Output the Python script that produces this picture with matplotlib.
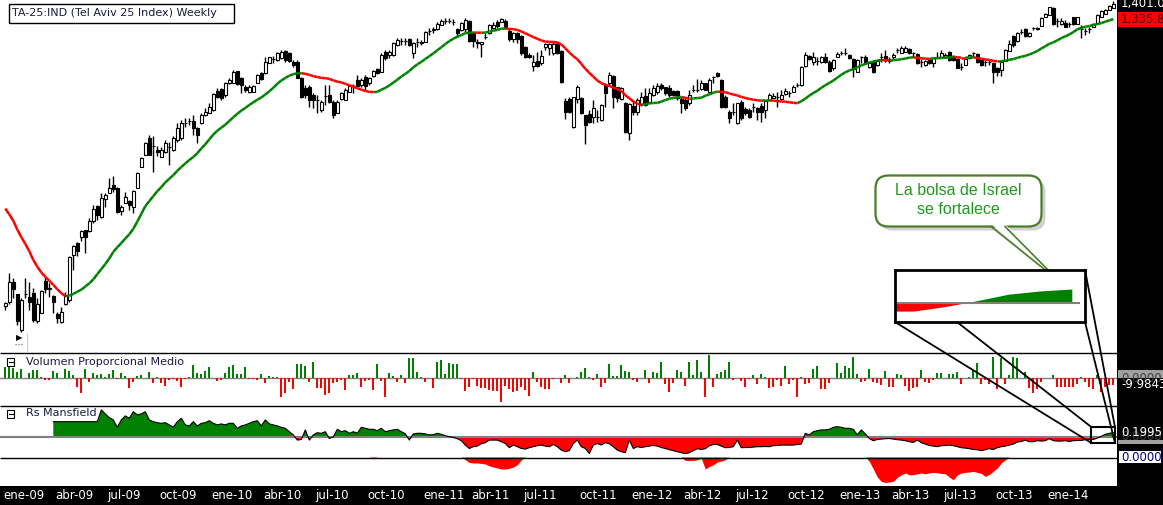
import numpy as np
import pandas as pd
import matplotlib
matplotlib.use("Agg")
import matplotlib.pyplot as plt
from matplotlib.collections import LineCollection
from matplotlib.patches import Rectangle, FancyBboxPatch, Polygon

# weekly candles, TA-25
opens = [193, 210, 288, 241, 97, 240, 228, 244, 134, 166,
         294, 263, 234, 161, 130, 201, 217, 396, 444, 470,
         497, 494, 533, 593, 550, 620, 646, 677, 664, 573,
         606, 614, 588, 664, 748, 797, 864, 832, 817, 790,
         810, 829, 817, 857, 864, 925, 933, 934, 904, 924,
         957, 966, 977, 1054, 1060, 1037, 1084, 1086, 1133, 1104,
         1068, 1050, 1050, 1086, 1124, 1124, 1166, 1181, 1177, 1184,
         1213, 1204, 1170, 1170, 1104, 1064, 1068, 1037, 1016, 977,
         1035, 1037, 1010, 964, 1020, 1017, 1050, 1072, 1097, 1077,
         1108, 1084, 1113, 1140, 1130, 1210, 1197, 1197, 1237, 1253,
         1254, 1260, 1206, 1250, 1250, 1250, 1294, 1299, 1300, 1317,
         1334, 1335, 1330, 1300, 1297, 1300, 1334, 1284, 1250, 1240,
         1268, 1284, 1304, 1330, 1330, 1334, 1294, 1260, 1284, 1273,
         1228, 1197, 1153, 1174, 1164, 1230, 1224, 1204, 1244, 1214,
         1014, 1020, 910, 1020, 1024, 957, 961, 950, 950, 937,
         1077, 1084, 1113, 1068, 1020, 1004, 884, 993, 970, 1001,
         1033, 1010, 1037, 1050, 1077, 1068, 1064, 1054, 1053, 1020,
         1017, 1004, 1057, 1057, 1060, 1084, 1050, 1110, 1126, 1097,
         1030, 970, 970, 924, 1010, 980, 977, 988, 984, 993,
         977, 1017, 1024, 1030, 1020, 1041, 1044, 1050, 1077, 1077,
         1153, 1193, 1170, 1174, 1170, 1188, 1170, 1144, 1190, 1206,
         1206, 1197, 1180, 1130, 1190, 1188, 1150, 1170, 1157, 1188,
         1193, 1174, 1188, 1217, 1206, 1210, 1220, 1204, 1201, 1170,
         1157, 1177, 1166, 1190, 1190, 1188, 1210, 1190, 1180, 1150,
         1157, 1184, 1204, 1201, 1177, 1170, 1170, 1166, 1144, 1137,
         1174, 1214, 1273, 1254, 1290, 1300, 1273, 1304, 1304, 1313,
         1350, 1357, 1384, 1334, 1321, 1326, 1321, 1348, 1321, 1300,
         1294, 1300, 1310, 1324, 1350, 1361, 1377, 1384]
highs = [210, 324, 304, 241, 224, 304, 290, 264, 224, 257,
         310, 284, 237, 170, 190, 250, 393, 437, 450, 497,
         497, 544, 597, 597, 646, 646, 704, 713, 668, 597,
         650, 617, 657, 730, 790, 850, 877, 873, 833, 830,
         857, 850, 873, 924, 937, 944, 944, 957, 910, 964,
         984, 1004, 1044, 1064, 1064, 1090, 1104, 1137, 1134, 1108,
         1077, 1077, 1077, 1121, 1130, 1190, 1190, 1193, 1210, 1217,
         1217, 1209, 1177, 1177, 1110, 1077, 1077, 1044, 1037, 1017,
         1077, 1077, 1017, 1017, 1050, 1064, 1077, 1080, 1117, 1104,
         1117, 1110, 1137, 1144, 1204, 1217, 1217, 1250, 1264, 1266,
         1264, 1265, 1250, 1264, 1257, 1293, 1304, 1310, 1330, 1340,
         1344, 1344, 1340, 1304, 1329, 1344, 1337, 1290, 1260, 1250,
         1284, 1321, 1329, 1337, 1344, 1340, 1300, 1289, 1289, 1277,
         1233, 1204, 1197, 1210, 1217, 1244, 1244, 1249, 1250, 1217,
         1024, 1029, 1030, 1077, 1030, 957, 977, 1017, 977, 1001,
         1084, 1130, 1117, 1070, 1070, 1010, 1006, 1017, 1024, 1050,
         1064, 1064, 1077, 1084, 1084, 1070, 1077, 1057, 1057, 1030,
         1030, 1057, 1077, 1100, 1097, 1084, 1104, 1113, 1130, 1100,
         1037, 977, 1004, 1006, 1017, 990, 984, 1004, 990, 1004,
         1017, 1044, 1044, 1050, 1057, 1065, 1054, 1077, 1084, 1153,
         1210, 1197, 1210, 1190, 1193, 1204, 1177, 1181, 1209, 1214,
         1224, 1201, 1184, 1181, 1193, 1197, 1170, 1177, 1177, 1204,
         1217, 1190, 1204, 1224, 1233, 1233, 1225, 1210, 1204, 1180,
         1177, 1181, 1190, 1210, 1217, 1204, 1213, 1197, 1184, 1164,
         1184, 1201, 1210, 1205, 1180, 1177, 1177, 1170, 1150, 1177,
         1221, 1257, 1277, 1289, 1300, 1304, 1289, 1310, 1310, 1348,
         1364, 1390, 1388, 1344, 1344, 1337, 1330, 1350, 1350, 1317,
         1304, 1310, 1324, 1361, 1377, 1380, 1396, 1412]
lows = [177, 201, 224, 117, 90, 224, 177, 130, 124, 164,
        246, 230, 164, 124, 124, 197, 210, 337, 394, 454,
        404, 490, 524, 537, 544, 590, 644, 650, 564, 557,
        604, 577, 564, 664, 748, 797, 797, 729, 793, 789,
        804, 757, 813, 850, 857, 910, 917, 877, 844, 921,
        953, 964, 974, 1024, 1017, 1030, 1081, 1085, 1077, 1044,
        1050, 1044, 1049, 1084, 1097, 1121, 1164, 1164, 1174, 1181,
        1170, 1169, 1150, 1104, 1024, 1024, 990, 984, 964, 970,
        997, 1004, 944, 964, 1017, 1017, 1049, 1044, 1068, 1068,
        1057, 1077, 1109, 1121, 1129, 1177, 1184, 1193, 1233, 1237,
        1237, 1233, 1184, 1230, 1237, 1249, 1277, 1284, 1297, 1316,
        1321, 1324, 1317, 1270, 1294, 1290, 1250, 1230, 1224, 1190,
        1260, 1281, 1301, 1305, 1329, 1305, 1254, 1249, 1245, 1197,
        1185, 1184, 1134, 1150, 1157, 1217, 1197, 1197, 1201, 1084,
        940, 966, 904, 1004, 961, 841, 924, 924, 930, 934,
        990, 1077, 984, 1010, 1017, 886, 857, 957, 957, 993,
        993, 1006, 1033, 1041, 1057, 1037, 1030, 1033, 1017, 964,
        977, 997, 1050, 1050, 1057, 1057, 1046, 1084, 1110, 984,
        984, 924, 957, 921, 937, 957, 944, 970, 937, 930,
        944, 1017, 1024, 990, 1017, 1037, 1030, 1049, 1070, 1075,
        1150, 1177, 1157, 1157, 1165, 1165, 1130, 1137, 1189, 1197,
        1197, 1181, 1110, 1129, 1164, 1161, 1144, 1124, 1153, 1170,
        1170, 1164, 1180, 1205, 1204, 1209, 1201, 1188, 1161, 1150,
        1153, 1161, 1150, 1184, 1188, 1185, 1173, 1173, 1144, 1137,
        1157, 1181, 1188, 1165, 1153, 1153, 1157, 1084, 1113, 1113,
        1173, 1213, 1230, 1249, 1281, 1270, 1269, 1297, 1297, 1313,
        1349, 1356, 1317, 1310, 1317, 1308, 1310, 1317, 1321, 1264,
        1277, 1286, 1309, 1321, 1348, 1360, 1377, 1384]
closes = [205, 288, 262, 134, 217, 241, 210, 137, 201, 253,
          262, 264, 210, 144, 170, 233, 390, 434, 414, 493,
          468, 533, 580, 557, 624, 637, 664, 660, 570, 588,
          628, 597, 654, 724, 784, 846, 797, 833, 809, 817,
          846, 830, 864, 906, 924, 926, 934, 904, 877, 957,
          970, 990, 1040, 1030, 1024, 1086, 1097, 1130, 1081, 1077,
          1057, 1070, 1073, 1117, 1100, 1170, 1188, 1182, 1204, 1210,
          1177, 1173, 1157, 1104, 1030, 1037, 1017, 1017, 1017, 1010,
          1034, 1010, 957, 1010, 1044, 1057, 1073, 1073, 1073, 1097,
          1073, 1104, 1134, 1126, 1197, 1184, 1210, 1244, 1257, 1254,
          1255, 1237, 1246, 1251, 1244, 1290, 1295, 1300, 1321, 1334,
          1335, 1334, 1330, 1284, 1326, 1337, 1254, 1254, 1244, 1250,
          1268, 1317, 1317, 1313, 1340, 1308, 1260, 1284, 1260, 1206,
          1190, 1188, 1170, 1153, 1193, 1240, 1240, 1240, 1204, 1090,
          970, 970, 1030, 1068, 964, 917, 930, 984, 951, 997,
          1044, 1117, 1030, 1024, 1064, 890, 1001, 970, 1017, 1030,
          997, 1044, 1064, 1073, 1064, 1044, 1037, 1037, 1024, 1004,
          984, 1037, 1058, 1057, 1086, 1057, 1097, 1110, 1113, 990,
          988, 944, 970, 1004, 944, 966, 950, 988, 970, 970,
          1014, 1037, 1034, 1030, 1037, 1054, 1044, 1070, 1077, 1150,
          1197, 1180, 1188, 1174, 1188, 1170, 1134, 1177, 1201, 1206,
          1207, 1184, 1140, 1177, 1190, 1166, 1164, 1130, 1174, 1188,
          1180, 1174, 1197, 1217, 1224, 1226, 1204, 1204, 1164, 1170,
          1174, 1164, 1184, 1190, 1204, 1197, 1177, 1177, 1144, 1150,
          1180, 1197, 1204, 1170, 1157, 1170, 1171, 1130, 1130, 1170,
          1217, 1241, 1237, 1286, 1290, 1273, 1284, 1304, 1303, 1344,
          1361, 1390, 1321, 1334, 1334, 1310, 1321, 1321, 1350, 1300,
          1294, 1300, 1321, 1357, 1374, 1377, 1393, 1401]
# closes of the 19 weeks before the first candle (feed the 20-week average)
closes_2008 = [757, 777, 837, 817, 785, 797, 837, 745, 705, 617,
               569, 545, 489, 489, 457, 369, 289, 233, 337]

volumen = [16.5, 16.5, 15, 10, 13.5, 0.8, 7.5, 12.5, 12.5, 1.5,
           -2.5, -2.5, 11.5, 7.5, 0.8, 13.5, 11.5, 5, -12.5, -21.5,
           13.5, -5, 8.5, 5, 6.5, 2.5, 6, 12.5, -1.5, 8.5,
           3.5, -14, -5, 3.5, 5, 0.8, 10, -7.5, 2.5, -7.5,
           -11, -2.5, -1.5, -3.5, -13.5, -1.5, 2.5, 20, 7.5, 6.5,
           11.5, 17.5, 0.5, -3.5, -2.5, 7.5, 16.5, 20, 6.5, 6,
           16.5, -1.5, -1.5, -2, 6.5, -7.5, 3.5, 2.5, 2.5, -28.5,
           -21.5, -5, -16.5, 21.5, 21.5, 18.5, -5, 25, -15, -15,
           -25, -21.5, -7.5, -5, -2.5, -17.5, 5, 5, 7.5, -13.5,
           -3.5, -2.5, -17.5, 21.5, -3.5, -27.5, 7.5, 3.5, -5, 5,
           -6.5, 30, 31, 10, 2.5, -5, 0.5, -15, 24, 27.5,
           6.5, 22.5, 21.5, 21.5, -1.5, -18.5, -13.5, -1.5, -11, -15,
           -15, -17.5, -18.5, -18.5, -35, -11, -16.5, -21, -18.5, -12.5,
           -17.5, -26, 9.5, -5, -13.5, -16.5, -16, -1.5, 0.8, -7.5,
           5, -7.5, 0.8, 1.5, 9, 15, 2.5, -2.5, 6.5, -12.5,
           -7.5, 21.5, 3.5, 3.5, 20, 11.5, 9, -2.5, -6, 0.8,
           12.5, -6.5, 9, 7.5, 24.5, -9, -21, -6.5, 12.5, 9,
           -11, 24.5, 5, 27.5, 9, -27.5, 35, -13.5, 6, 9,
           12.5, 24, -2.5, 0.5, -4, -12.5, -1, 5, -9, 6.5,
           2.5, -15, -12.5, -2.5, -11, 18.5, -9, -2.5, -27.5, 2.5,
           -9, -6.5, 13.5, 18.5, -16.5, -16.5, -7.5, 0.8, 23.5, 7.5,
           18.5, 16, 32.5, 6.5, -5, -3.5, 13.5, -5, -7.5, -10,
           11, -12.5, -12.5, 6, 5, -11.5, -18.5, -15, -12.5, 12.5,
           -5, -7.5, -2.5, 7.5, 8.5, 0.8, 6.5, 6, 10, -9,
           0.8, 2.5, 12.5, 23.5, -9, -2.5, -8.5, 32.5, -16.5, 31,
           -9, 5, 31.5, 30, 0.8, 9, -15, -22.5, -16.5, -5,
           0.8, 0.5, 5, -12.5, -12.5, -12.5, -12.5, -12.5, -8.5, 1.5,
           -5, -12.5, -16.5, 5, -20, -12.5, -10, -10]

rs_start = 12
rs_mansfield = [0.75, 0.75, 0.75, 0.75, 0.75, 0.75, 0.75, 0.75, 0.75, 0.75, 0.75, 0.75,
                1.34, 1.14, 0.95, 0.84, 0.47, 0.84, 1.04, 0.92, 1.25, 1.09,
                1.14, 1.25, 0.84, 0.75, 0.7, 0.67, 0.7, 0.59, 0.47, 0.75,
                0.92, 0.59, 0.54, 0.75, 0.54, 0.67, 0.7, 0.8, 0.67, 0.59,
                0.64, 0.59, 0.67, 0.67, 0.42, 0.54, 0.59, 0.67, 0.75, 0.8,
                0.54, 0.84, 0.64, 0.59, 0.54, 0.47, 0.42, 0.25, 0.09, -0.17,
                -0.14, 0.34, -0.17, 0.09, 0.2, 0.17, 0.25, -0.09, 0.0, 0.37,
                0.25, 0.3, 0.17, 0.25, 0.17, 0.47, 0.42, 0.37, 0.37, 0.3,
                0.42, 0.25, 0.3, 0.34, 0.37, 0.25, 0.15, -0.17, 0.14, 0.17,
                0.17, 0.14, 0.09, 0.1, 0.17, 0.12, 0.05, 0.0, -0.04, -0.1,
                -0.2, -0.42, -0.59, -0.5, -0.47, -0.35, -0.3, -0.17, -0.17, -0.17,
                -0.25, -0.34, -0.55, -0.42, -0.5, -0.59, -0.62, -0.55, -0.5, -0.45,
                -0.42, -0.47, -0.5, -0.39, -0.5, -0.67, -0.75, -0.7, -0.34, -0.17,
                -0.5, -0.59, -0.84, -0.42, -0.34, -0.42, -0.3, -0.35, -0.5, -0.67,
                -0.75, -0.8, -0.17, -0.59, -0.5, -0.54, -0.5, -0.47, -0.44, -0.47,
                -0.54, -0.59, -0.65, -0.7, -0.75, -0.8, -0.85, -0.8, -0.7, -0.6,
                -0.64, -0.6, -0.45, -0.39, -0.39, -0.47, -0.55, -0.54, -0.5, -0.17,
                -0.55, -0.54, -0.54, -0.52, -0.5, -0.5, -0.49, -0.5, -0.45, -0.44,
                -0.42, -0.42, -0.42, -0.42, -0.39, -0.37, 0.17, 0.09, 0.25, 0.3,
                0.34, 0.34, 0.37, 0.47, 0.5, 0.47, 0.42, 0.42, 0.37, 0.09,
                0.34, 0.14, -0.09, -0.2, -0.14, -0.12, -0.1, -0.09, -0.12, -0.15,
                -0.17, -0.2, -0.25, -0.29, -0.17, -0.3, -0.37, -0.44, -0.47, -0.5,
                -0.45, -0.44, -0.42, -0.45, -0.5, -0.55, -0.57, -0.6, -0.64, -0.65,
                -0.7, -0.65, -0.6, -0.64, -0.55, -0.5, -0.47, -0.42, -0.37, -0.27,
                -0.24, -0.17, -0.25, -0.25, -0.2, -0.22, -0.2, -0.1, -0.2, -0.22,
                -0.22, -0.2, -0.24, -0.2, -0.19, -0.19, -0.15, -0.14, -0.14, -0.07,
                0.02, 0.12, 0.17, 0.2]

# unnamed bottom indicator: only its negative stretches are drawn
lower_starts = [92, 115, 170, 216]
lower_values = [
    [-0.1],
    [-0.14, -0.27, -0.3, -0.3, -0.32, -0.35, -0.44, -0.5, -0.55, -0.6, -0.6, -0.57, -0.5, -0.39, -0.15],
    [-0.17, -0.17, -0.17, -0.14, -0.07, -0.6, -0.47, -0.39, -0.25, -0.2, -0.14],
    [-0.22, -0.6, -1.0, -1.22, -1.27, -1.25, -1.22, -1.02, -0.89, -0.8, -0.89, -0.89, -0.84, -0.8,
     -0.84, -0.79, -0.77, -0.79, -0.82, -0.84, -1.0, -1.14, -0.9, -0.8, -0.77, -0.75, -0.72, -0.77,
     -0.82, -0.97, -0.87, -0.72, -0.55, -0.3, -0.14],
]

month_names = {1: 'ene', 4: 'abr', 7: 'jul', 10: 'oct'}
title = 'TA-25:IND (Tel Aviv 25 Index) Weekly'
price_labels = ['1,401.0', '1,335.8']
vol_labels = ['0.0000', '-9.9843']
rs_labels = ['0.1995', '0.0000']
lower_label = '0.0000'
note = ['La bolsa de Israel', 'se fortalece']

n = len(closes)
x = np.arange(n)
weeks = pd.date_range('2009-01-02', periods=n, freq='W-FRI')
o = np.array(opens, float)
hi = np.array(highs, float)
lo = np.array(lows, float)
c = np.array(closes, float)
ma = np.convolve(np.concatenate([closes_2008, c]), np.ones(20) / 20, mode='valid')

W, H = 1163, 505
RIGHT = 1117
fig = plt.figure(figsize=(W / 100, H / 100), dpi=100, facecolor='black')


def panel(top, bottom):
    a = fig.add_axes([0, 1 - bottom / H, RIGHT / W, (bottom - top) / H])
    a.set_facecolor('white')
    a.set_xticks([])
    a.set_yticks([])
    for s in a.spines.values():
        s.set_visible(False)
    a.set_xlim(-1.33, n - 0.08)
    return a


ax = panel(0, 352)
axv = panel(352, 405)
axr = panel(405, 457)
axd = panel(457, 486)
ax.set_ylim(9, 1417)
axv.set_ylim(-40, 39.5)
axr.set_ylim(-1.015, 1.585)
axd.set_ylim(-1.45, 0)

# candles
up = c >= o
ax.vlines(x, lo, hi, color='black', lw=1, zorder=2)
blo = np.minimum(o, c)
bh = np.abs(c - o)
ax.bar(x[up], bh[up], bottom=blo[up], width=0.72, color='white',
       edgecolor='black', lw=0.8, zorder=3)
ax.bar(x[~up], bh[~up], bottom=blo[~up], width=0.72, color='black',
       edgecolor='black', lw=0.8, zorder=3)

# 20 week average, green while rising, red while falling
pts = np.column_stack([x, ma])
segs = np.stack([pts[:-1], pts[1:]], axis=1)
cols = np.where(np.diff(ma) >= 0, '#008000', '#ff0000')
ax.add_collection(LineCollection(segs, colors=cols, linewidths=1.8, zorder=4))

# volume
vol = np.array(volumen)
axv.axhline(0, color='#808080', lw=1)
axv.bar(x, vol, width=0.5, color=np.where(vol >= 0, '#008000', '#ff0000'), lw=0, zorder=2)

# Rs Mansfield
xr = np.arange(rs_start, n)
rs = np.array(rs_mansfield)
axr.fill_between(xr, rs, 0, where=rs >= 0, interpolate=True, color='#008000', lw=0)
axr.fill_between(xr, rs, 0, where=rs <= 0, interpolate=True, color='#ff0000', lw=0)
axr.axhline(0, color='#808080', lw=1.5)
axr.plot(xr, rs, color='black', lw=0.8)

# bottom strip
for st, vals in zip(lower_starts, lower_values):
    xs = np.arange(st - 1, st + len(vals) + 1)
    ys = np.concatenate([[0], vals, [0]])
    axd.fill_between(xs, ys, 0, color='#ff0000', lw=0)

# overlay in pixel coordinates
ov = fig.add_axes([0, 0, 1, 1], zorder=10)
ov.set_xlim(0, W)
ov.set_ylim(H, 0)
ov.axis('off')
ov.patch.set_alpha(0)


def py(a, v):
    return H - a.transData.transform((0, v))[1]


def px(a, i):
    return a.transData.transform((i, 0))[0]


ov.hlines([352.5, 405.5, 457.5], 0, RIGHT, color='black', lw=1)

# title box
ov.add_patch(Rectangle((8.5, 3.5), 225, 19, fc='white', ec='black', lw=1))
ov.text(12, 13.5, title, fontsize=8, color='#1a1a40', va='center', ha='left')

# panel titles
for yc, name in [(362, 'Volumen Proporcional Medio'), (413.5, 'Rs Mansfield')]:
    ov.add_patch(Rectangle((7, yc - 4), 7, 8, fc='white', ec='black', lw=0.8))
    ov.plot([8.5, 12.5], [yc, yc], color='black', lw=0.8)
    ov.text(26, yc, name, fontsize=8, color='#1a1a40', va='center', ha='left')

# small marker bottom left
ov.text(19.5, 338, '\u25b6', fontsize=6, ha='center', va='center', color='black')
ov.hlines(344, 15, 23, color='#555555', lw=0.8, linestyle=':')
ov.vlines(26.5, 333, 352, color='#cccccc', lw=0.8)

# right side value labels (they overlap each other in the original too)
lab = dict(fontsize=8.5, va='center', ha='left')
ov.text(1121, py(ax, c[-1]), price_labels[0], color='white', **lab)
y_ma = py(ax, ma[-1])
ov.add_patch(Rectangle((1118, y_ma - 7.5), 45, 15, fc='#ff0000', ec='none'))
ov.text(1121, y_ma, price_labels[1], color='#500000', **lab)

y0 = py(axv, 0)
ov.add_patch(Rectangle((1118, y0 - 8), 45, 16, fc='#a0a0a0', ec='none'))
ov.text(1121, y0, vol_labels[0], color='#404040', **lab)
y1 = py(axv, vol[-1])
ov.add_patch(Rectangle((1118, y1 - 6.7), 45, 13.4, fc='black', ec='none'))
ov.text(1121, y1, vol_labels[1], color='white', **lab)

y0 = py(axr, 0)
ov.add_patch(Rectangle((1118, y0 - 7), 45, 14, fc='#a0a0a0', ec='none'))
ov.text(1121, y0, rs_labels[1], color='#404040', **lab)
y1 = py(axr, rs[-1])
ov.add_patch(Rectangle((1118, y1 - 7), 45, 14, fc='black', ec='none'))
ov.text(1121, y1, rs_labels[0], color='white', **lab)

y0 = py(axd, 0)
ov.add_patch(Rectangle((1119, y0 - 6), 42, 12, fc='white', ec='none'))
ov.text(1121, y0 + 0.5, lower_label, color='#000080', **lab)

# x axis labels (only those that fit inside the plot)
for i in range(n):
    m = weeks[i].month
    if m in month_names and (i == 0 or weeks[i - 1].month != m):
        xl = px(ax, i - 0.6)
        if xl > RIGHT - 45:
            continue
        ov.text(xl, 495.5, f"{month_names[m]}-{weeks[i].year % 100:02d}",
                color='white', fontsize=8.5, ha='left', va='center')

# callout
edge = '#4b7d2a'
ov.add_patch(Polygon([(995, 229), (1009, 229), (1063, 285)], closed=True,
                     fc='#999999', ec='none', alpha=0.45))
ov.add_patch(FancyBboxPatch((879.5, 179.5), 166, 51, boxstyle='round,pad=0,rounding_size=13',
                            fc='#999999', ec='none', alpha=0.45))
ov.add_patch(FancyBboxPatch((875.5, 175.5), 166, 51, boxstyle='round,pad=0,rounding_size=13',
                            fc='white', ec=edge, lw=1.6))
ov.add_patch(Polygon([(991, 224), (1005, 224), (1059, 281)], closed=True, fc='white', ec='none'))
ov.plot([991, 1059, 1005], [226.5, 281, 226.5], color=edge, lw=1.2)
ov.text(958, 190.5, note[0], family=['Liberation Sans', 'DejaVu Sans'], fontsize=11.5,
        color='#1f9a1f', ha='center', va='center')
ov.text(958, 209, note[1], family=['Liberation Sans', 'DejaVu Sans'], fontsize=11.5,
        color='#1f9a1f', ha='center', va='center')

# zoom box on the last weeks of Rs Mansfield
zx0, zx1 = 271.4, 277.4
zy0, zy1 = -0.3, 0.5
sx0, sx1 = px(axr, zx0), px(axr, zx1)
sy0, sy1 = py(axr, zy1), py(axr, zy0)
ov.add_patch(Rectangle((sx0, sy0), sx1 - sx0, sy1 - sy0, fc='none', ec='black', lw=1.5))
ix0, ix1, iy0, iy1 = 895, 1085, 270, 322
for (a0, b0), (a1, b1) in [((ix0, iy1), (sx0, sy1)), ((957, iy1), (sx0, sy0)),
                           ((ix1, iy0), (sx1, sy0)), ((ix1, iy1), (sx1, sy1))]:
    ov.plot([a0, a1], [b0, b1], color='black', lw=1.3)

axi = fig.add_axes([ix0 / W, 1 - iy1 / H, (ix1 - ix0) / W, (iy1 - iy0) / H], zorder=11)
axi.set_facecolor('white')
axi.set_xticks([])
axi.set_yticks([])
for s in axi.spines.values():
    s.set_linewidth(2)
    s.set_color('black')
axi.set_xlim(zx0, zx1)
axi.set_ylim(zy0, zy1)
axi.fill_between(xr, rs, 0, where=rs >= 0, interpolate=True, color='#008000', lw=0)
axi.fill_between(xr, rs, 0, where=rs <= 0, interpolate=True, color='#ff0000', lw=0)
axi.axhline(0, color='#808080', lw=1.5, xmax=0.97)

fig.savefig('out.png', dpi=100, facecolor='black')
